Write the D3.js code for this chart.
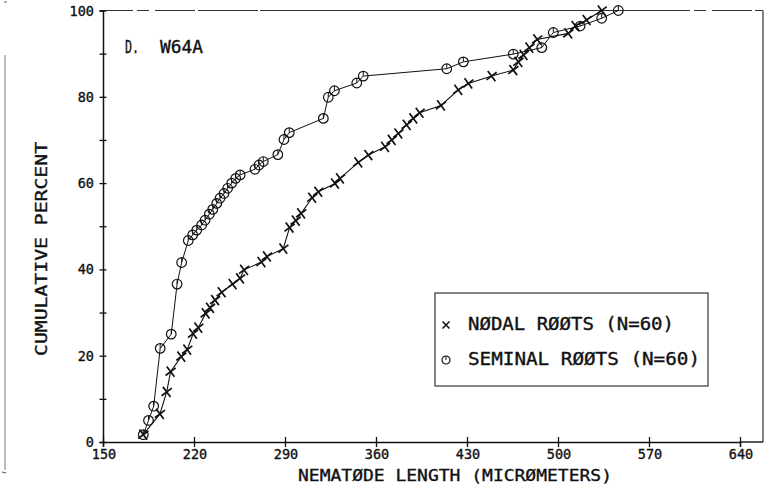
<!DOCTYPE html>
<html>
<head>
<meta charset="utf-8">
<script src="https://cdn.jsdelivr.net/npm/d3@7"></script>
<style>
  html, body { margin: 0; padding: 0; background: #fff; }
  svg { display: block; }
  text { font-family: 'DejaVu Sans Mono', 'Liberation Mono', monospace; fill: #111; stroke: #111; stroke-width: 0.35; }
</style>
</head>
<body>
<svg id="chart" width="774" height="493"></svg>
<script>
// Cumulative length distributions, W64A
const nodalLength = [181, 193.8, 199, 202, 210.2, 214.8, 219.3, 223.3, 229, 232.3, 236.2, 241.3,
  249.7, 255.4, 258.5, 271.9, 276.1, 288.7, 293.5, 298.3, 302.4, 310.9, 315.6, 328.5, 332.3,
  346.4, 354.1, 367, 372.1, 377.2, 383.6, 388.7, 393.5, 410, 423.3, 431, 448.9, 465.6, 469.5,
  473.5, 478, 484, 507.9, 513.5, 522, 533.6];
const nodalPercent = [1.7, 6.5, 11.6, 16.3, 19.8, 21.4, 25.1, 26.5, 29.8, 31.1, 32.9, 34.7,
  36.6, 37.9, 39.9, 41.7, 43.0, 44.8, 49.7, 51.3, 53.0, 56.6, 58.0, 59.9, 61.1,
  64.8, 66.5, 68.4, 70.0, 71.5, 73.5, 75.0, 76.3, 78.0, 81.6, 83.1, 84.8, 86.2, 88.1,
  89.7, 91.4, 93.3, 94.7, 96.4, 97.8, 100];

const seminalLength = [181, 185, 189, 194, 202.5, 207, 210.5, 215.6, 219, 222.1, 225.9, 228.5,
  231.8, 234.4, 237.5, 240, 243.1, 245.9, 249, 252.1, 255.5, 266.9, 270, 273.3, 284.5,
  289.2, 293.3, 319.5, 323.3, 328, 345.2, 350.2, 414.4, 427.2, 465.6, 487.5, 496.4, 517,
  533.6, 546.4];
const seminalPercent = [1.7, 5.0, 8.3, 21.7, 25.0, 36.6, 41.6, 46.7, 48.0, 49.1, 50.3, 51.4,
  52.8, 53.9, 55.3, 56.5, 57.6, 58.8, 60.0, 61.1, 61.9, 63.2, 64.2, 65.0, 66.6,
  70.1, 71.7, 75.0, 79.9, 81.4, 83.2, 84.8, 86.5, 88.1, 89.9, 91.4, 94.9, 96.4,
  98.2, 100];

const xTickValues = [150, 220, 290, 360, 430, 500, 570, 640];
const yTickValues = [0, 10, 20, 30, 40, 50, 60, 70, 80, 90, 100];
const yLabelValues = [0, 20, 40, 60, 80, 100];

const nodal = nodalLength.map((v, i) => ({ x: v, y: nodalPercent[i] }));
const seminal = seminalLength.map((v, i) => ({ x: v, y: seminalPercent[i] }));

const svg = d3.select('#chart');
const ink = '#111';

const x = d3.scaleLinear().domain([150, 640]).range([103, 740]);
const y = d3.scaleLinear().domain([0, 100]).range([442, 10.5]);
const frameRight = 763;

// faint edge of the page on the far left
svg.append('line').attr('x1', 5).attr('x2', 5).attr('y1', 55).attr('y2', 470)
  .attr('stroke', '#777').attr('stroke-width', 1);
svg.append('line').attr('x1', 2).attr('x2', 6).attr('y1', 472).attr('y2', 473)
  .attr('stroke', '#555').attr('stroke-width', 1);
svg.append('line').attr('x1', 4).attr('x2', 7).attr('y1', 2).attr('y2', 2)
  .attr('stroke', '#666').attr('stroke-width', 1);

// plot frame: top and right edges
svg.append('line').attr('x1', x(150)).attr('x2', frameRight).attr('y1', y(100)).attr('y2', y(100))
  .attr('stroke', '#333').attr('stroke-width', 1).attr('stroke-dasharray', '30,4,12,6,40,3,60,2,400,0');
svg.append('line').attr('x1', frameRight).attr('x2', frameRight).attr('y1', y(100)).attr('y2', y(0))
  .attr('stroke', '#333').attr('stroke-width', 1.2);
svg.append('line').attr('x1', x(640)).attr('x2', frameRight).attr('y1', y(0)).attr('y2', y(0))
  .attr('stroke', ink).attr('stroke-width', 1.4);

// y axis with ticks crossing the line
const yAxis = svg.append('g').attr('transform', `translate(${x(150)},0)`)
  .call(d3.axisLeft(y).tickValues(yTickValues).tickSize(3.5).tickFormat(''));
yAxis.select('.domain').attr('stroke', ink).attr('stroke-width', 1.5);
yAxis.selectAll('.tick line').attr('x1', 3.5).attr('x2', -3.5).attr('stroke', ink).attr('stroke-width', 1.3);
svg.append('g').selectAll('text').data(yLabelValues).join('text')
  .attr('x', 94).attr('y', d => y(d) + 5)
  .attr('text-anchor', 'end').attr('font-size', 13.5)
  .text(d => d);

// x axis
const xAxis = svg.append('g').attr('transform', `translate(0,${y(0)})`)
  .call(d3.axisBottom(x).tickValues(xTickValues).tickSize(5).tickFormat(''));
xAxis.select('.domain').attr('stroke', ink).attr('stroke-width', 1.4);
xAxis.selectAll('.tick line').attr('y1', -5).attr('y2', 5).attr('stroke', ink).attr('stroke-width', 1.3);
svg.append('g').selectAll('text').data(xTickValues).join('text')
  .attr('x', d => x(d) + 1).attr('y', y(0) + 17)
  .attr('text-anchor', 'middle').attr('font-size', 13.5)
  .text(d => d);

// axis titles
svg.append('text').attr('transform', 'translate(47,249) rotate(-90)')
  .attr('text-anchor', 'middle').attr('font-size', 16)
  .attr('textLength', 214).attr('lengthAdjust', 'spacingAndGlyphs')
  .text('CUMULATIVE PERCENT');
svg.append('text').attr('x', 455).attr('y', 481)
  .attr('text-anchor', 'middle').attr('font-size', 16)
  .attr('textLength', 314).attr('lengthAdjust', 'spacingAndGlyphs')
  .text('NEMATØDE LENGTH (MICRØMETERS)');

// panel label
svg.append('text').attr('x', 125).attr('y', 53).attr('font-size', 17)
  .attr('textLength', 14).attr('lengthAdjust', 'spacingAndGlyphs').text('D.');
svg.append('text').attr('x', 160).attr('y', 53).attr('font-size', 17)
  .attr('textLength', 43).attr('lengthAdjust', 'spacingAndGlyphs').text('W64A');

// marker shapes
const crossPath = 'M-4.5,-4.5L4.5,4.5M-4.5,4.5L4.5,-4.5';
function drawCircleMarker(g, r) {
  g.append('circle').attr('r', r).attr('fill', 'none').attr('stroke', ink).attr('stroke-width', 1.2);
  g.append('line').attr('x1', 0).attr('x2', 0).attr('y1', -r).attr('y2', 0)
    .attr('stroke', ink).attr('stroke-width', 1);
}

const line = d3.line().x(d => x(d.x)).y(d => y(d.y));

// seminal roots
svg.append('path').datum(seminal).attr('d', line)
  .attr('fill', 'none').attr('stroke', ink).attr('stroke-width', 1);
svg.append('g').selectAll('g').data(seminal).join('g')
  .attr('transform', d => `translate(${x(d.x)},${y(d.y)})`)
  .each(function () { drawCircleMarker(d3.select(this), 4.8); });

// nodal roots
svg.append('path').datum(nodal).attr('d', line)
  .attr('fill', 'none').attr('stroke', ink).attr('stroke-width', 1.1);
svg.append('g').selectAll('path').data(nodal).join('path')
  .attr('transform', d => `translate(${x(d.x)},${y(d.y)}) rotate(8)`)
  .attr('d', crossPath).attr('stroke', ink).attr('stroke-width', 1.7).attr('fill', 'none');

// legend
const lg = svg.append('g');
lg.append('rect').attr('x', 435).attr('y', 293).attr('width', 273).attr('height', 93)
  .attr('fill', 'none').attr('stroke', '#222').attr('stroke-width', 1.1);
lg.append('path').attr('transform', 'translate(446,325)')
  .attr('d', 'M-3.5,-3.5L3.5,3.5M-3.5,3.5L3.5,-3.5').attr('stroke', ink).attr('stroke-width', 1.5);
lg.append('text').attr('x', 468).attr('y', 330).attr('font-size', 17)
  .attr('textLength', 206).attr('lengthAdjust', 'spacingAndGlyphs')
  .text('NØDAL RØØTS (N=60)');
const lc = lg.append('g').attr('transform', 'translate(446,360)');
drawCircleMarker(lc, 4);
lg.append('text').attr('x', 468).attr('y', 365).attr('font-size', 17)
  .attr('textLength', 232).attr('lengthAdjust', 'spacingAndGlyphs')
  .text('SEMINAL RØØTS (N=60)');
</script>
</body>
</html>
